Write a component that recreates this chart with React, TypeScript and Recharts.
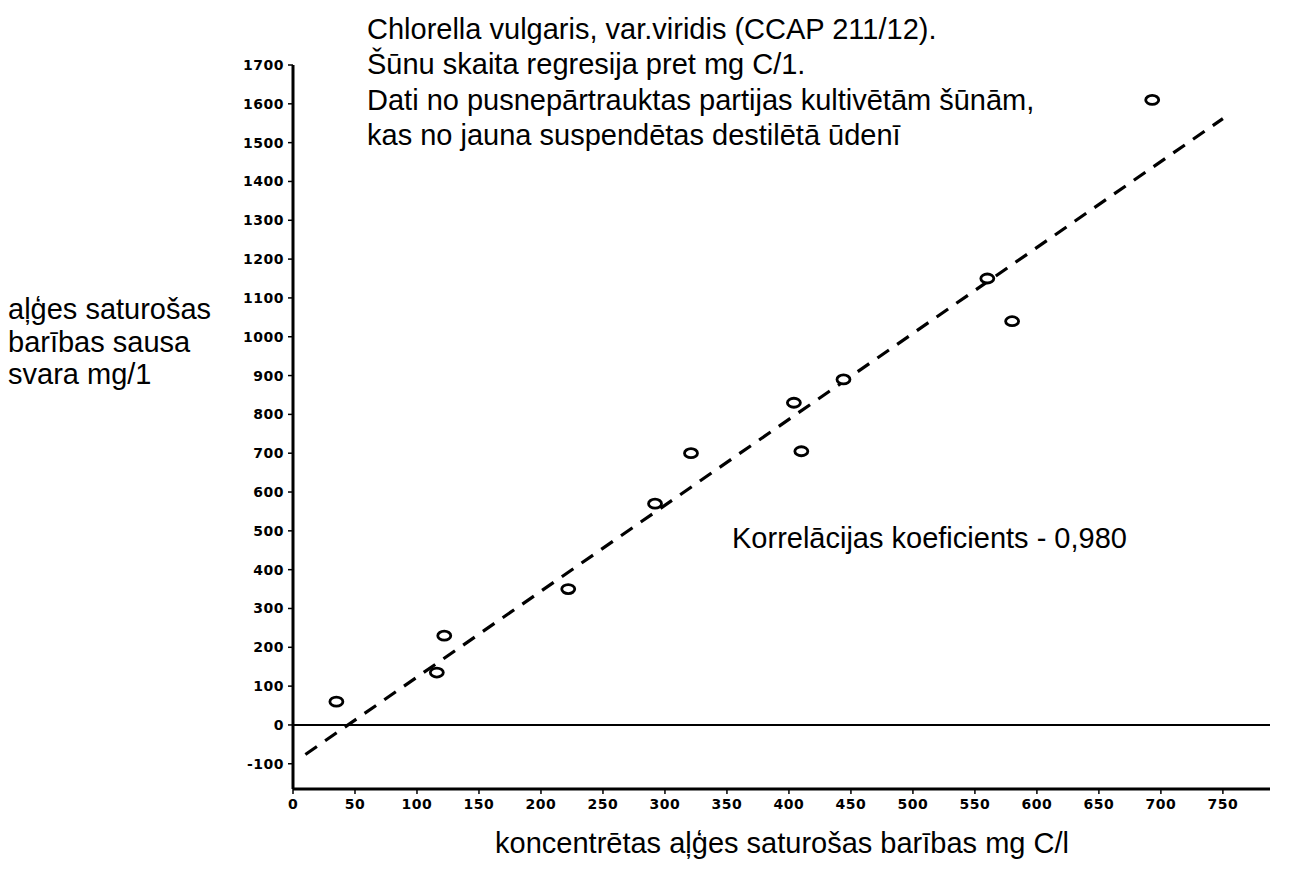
import React from 'react';
import {
  ScatterChart,
  Scatter,
  XAxis,
  YAxis,
  ReferenceLine,
} from 'recharts';

const concentrationMgC = [35, 116, 122, 222, 292, 321, 404, 410, 444, 560, 580, 693];
const dryWeightMg = [60, 135, 230, 350, 570, 700, 830, 705, 890, 1150, 1040, 1610];

const xTicks = [0, 50, 100, 150, 200, 250, 300, 350, 400, 450, 500, 550, 600, 650, 700, 750];
const yTicks = [-100, 0, 100, 200, 300, 400, 500, 600, 700, 800, 900, 1000, 1100, 1200, 1300, 1400, 1500, 1600, 1700];

// fitted regression
const regressionX = [10, 750];
const regressionY = [-76, 1562];

const titleLines = [
  'Chlorella vulgaris, var.viridis (CCAP 211/12).',
  'Šūnu skaita regresija pret mg C/1.',
  'Dati no pusnepārtrauktas partijas kultivētām šūnām,',
  'kas no jauna suspendētas destilētā ūdenī',
];
const yLabelLines = ['aļģes saturošas', 'barības sausa', 'svara mg/1'];
const xLabel = 'koncentrētas aļģes saturošas barības mg C/l';
const correlationNote = 'Korrelācijas koeficients - 0,980';

const WIDTH = 1299;
const HEIGHT = 886;
const TEXT_FONT = '"Liberation Sans", Arial, sans-serif';
const TICK_FONT = '"DejaVu Sans", sans-serif';

const points = concentrationMgC.map((x, i) => ({ x, y: dryWeightMg[i] }));
const regressionSegment = regressionX.map((x, i) => ({ x, y: regressionY[i] }));

const OpenCircle = (props: any) => {
  const { cx, cy } = props;
  if (cx == null || cy == null) return null;
  return <ellipse cx={cx} cy={cy} rx={6.5} ry={4.5} fill="#fff" stroke="#000" strokeWidth={2.8} />;
};

const tickStyle = {
  fill: '#000',
  fontSize: 14,
  fontWeight: 'bold' as const,
  fontFamily: TICK_FONT,
  letterSpacing: 0.5,
};

export default function App() {
  return (
    <div style={{ position: 'absolute', left: 0, top: 0, width: WIDTH, height: HEIGHT, background: '#fff' }}>
      <ScatterChart
        width={WIDTH}
        height={HEIGHT}
        margin={{ top: 65, right: 29, bottom: 67, left: 233 }}
      >
        <XAxis
          type="number"
          dataKey="x"
          domain={[0, 788]}
          ticks={xTicks}
          height={30}
          axisLine={{ stroke: '#000', strokeWidth: 3 }}
          tickLine={{ stroke: '#000', strokeWidth: 1.5 }}
          tickSize={5}
          tickMargin={5}
          tick={tickStyle}
          interval={0}
        />
        <YAxis
          type="number"
          dataKey="y"
          domain={[-165, 1700]}
          ticks={yTicks}
          width={60}
          axisLine={{ stroke: '#000', strokeWidth: 3 }}
          tickLine={{ stroke: '#000', strokeWidth: 1.5 }}
          tickSize={5}
          tickMargin={4}
          tick={tickStyle}
          interval={0}
        />
        <ReferenceLine y={0} stroke="#000" strokeWidth={2} />
        <ReferenceLine
          segment={regressionSegment}
          stroke="#000"
          strokeWidth={3.2}
          strokeDasharray="14 10"
          ifOverflow="visible"
        />
        <Scatter data={points} shape={<OpenCircle />} isAnimationActive={false} />
      </ScatterChart>
      <svg
        width={WIDTH}
        height={HEIGHT}
        style={{ position: 'absolute', left: 0, top: 0, pointerEvents: 'none' }}
        fontFamily={TEXT_FONT}
        fontSize={29}
        fill="#000"
      >
        {titleLines.map((line, i) => (
          <text key={line} x={367} y={39 + i * 35.3}>
            {line}
          </text>
        ))}
        {yLabelLines.map((line, i) => (
          <text key={line} x={8} y={319 + i * 32.5}>
            {line}
          </text>
        ))}
        <text x={782} y={853} textAnchor="middle">
          {xLabel}
        </text>
        <text x={732} y={548}>
          {correlationNote}
        </text>
      </svg>
    </div>
  );
}
